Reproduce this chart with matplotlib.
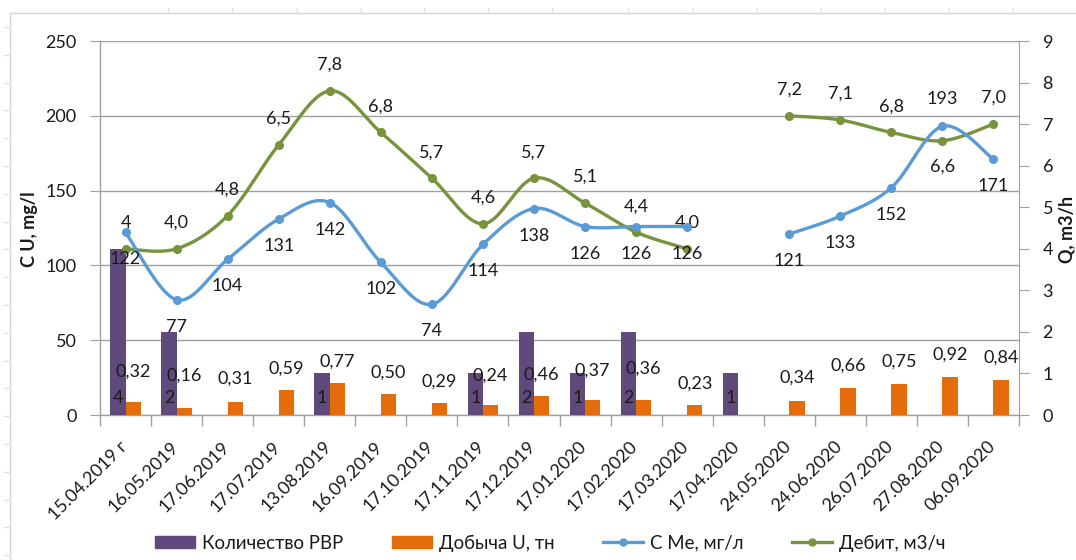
import numpy as np
import matplotlib
matplotlib.use("Agg")
import matplotlib.pyplot as plt
import matplotlib.transforms as mtransforms
from matplotlib.patches import Rectangle
from matplotlib.lines import Line2D

# ---- data -------------------------------------------------------------
dates = ["15.04.2019 г", "16.05.2019", "17.06.2019", "17.07.2019", "13.08.2019",
         "16.09.2019", "17.10.2019", "17.11.2019", "17.12.2019", "17.01.2020",
         "17.02.2020", "17.03.2020", "17.04.2020", "24.05.2020", "24.06.2020",
         "26.07.2020", "27.08.2020", "06.09.2020"]
nan = np.nan
rvr_count = [4, 2, nan, nan, 1, nan, nan, 1, 2, 1, 2, nan, 1, nan, nan, nan, nan, nan]
u_output = [0.32, 0.16, 0.31, 0.59, 0.77, 0.50, 0.29, 0.24, 0.46, 0.37, 0.36, 0.23,
            nan, 0.34, 0.66, 0.75, 0.92, 0.84]
c_me = [122, 77, 104, 131, 142, 102, 74, 114, 138, 126, 126, 126,
        nan, 121, 133, 152, 193, 171]
debit = [4, 4.0, 4.8, 6.5, 7.8, 6.8, 5.7, 4.6, 5.7, 5.1, 4.4, 4.0,
         nan, 7.2, 7.1, 6.8, 6.6, 7.0]

legend_names = ["Количество РВР", "Добыча U, тн", "С Ме, мг/л", "Дебит, м3/ч"]

# ---- style ------------------------------------------------------------
PURPLE = "#604a7b"
ORANGE = "#e46c0a"
BLUE = "#5b9bd5"
GREEN = "#77933c"
GRID = "#a0a0a0"
TXT = "#1a1a1a"
FS = 13

plt.rcParams["font.family"] = ["Lato", "DejaVu Sans"]


def fmt(v):
    if isinstance(v, int):
        return str(v)
    return f"{v:.1f}".replace(".", ",")


def smooth_segments(xs, ys, n=24):
    """Bezier-smoothed polylines through the points, split at missing values."""
    xs = np.asarray(xs, float)
    ys = np.asarray(ys, float)
    ok = ~np.isnan(ys)
    runs, cur = [], []
    for i in range(len(xs)):
        if ok[i]:
            cur.append(i)
        elif cur:
            runs.append(cur)
            cur = []
    if cur:
        runs.append(cur)
    out = []
    for r in runs:
        pts = np.column_stack([xs[r], ys[r]])
        m = len(pts)
        path = [pts[0]]
        for i in range(m - 1):
            p0 = pts[i - 1] if i > 0 else pts[i]
            p1, p2 = pts[i], pts[i + 1]
            p3 = pts[i + 2] if i + 2 < m else pts[i + 1]
            c1 = p1 + (p2 - p0) / 6.0
            c2 = p2 - (p3 - p1) / 6.0
            t = np.linspace(0, 1, n)[1:, None]
            seg = ((1 - t) ** 3) * p1 + 3 * ((1 - t) ** 2) * t * c1 \
                + 3 * (1 - t) * (t ** 2) * c2 + (t ** 3) * p2
            path.extend(seg)
        out.append(np.array(path))
    return out


W, H = 1076, 560
fig = plt.figure(figsize=(W / 100, H / 100), dpi=100)
L, R, T, B = 100, 1019, 41, 415
ax = fig.add_axes([L / W, 1 - B / H, (R - L) / W, (B - T) / H])
ax_r = ax.twinx()
ax_top = ax.twinx()

x = np.arange(len(dates))

# left scale: concentration
ax.set_xlim(-0.5, len(dates) - 0.5)
ax.set_ylim(0, 250)
ax.set_yticks(np.arange(0, 251, 50))
ax.grid(axis="y", color=GRID, lw=1.0)
ax.set_axisbelow(True)
for s in ["top", "right"]:
    ax.spines[s].set_visible(False)
for s in ["left", "bottom"]:
    ax.spines[s].set_color(GRID)
    ax.spines[s].set_linewidth(1.0)
ax.tick_params(axis="y", length=7, color=GRID, labelsize=FS, labelcolor=TXT, pad=10)

# category boundaries as ticks, date labels drawn as rotated texts
ax.set_xticks(np.arange(-0.5, len(dates), 1))
ax.set_xticklabels([])
ax.tick_params(axis="x", length=8, color=GRID, width=1.0)
lab_shift = mtransforms.ScaledTranslation(-2 / 100, -28 / 100, fig.dpi_scale_trans)
for xi, d in zip(x, dates):
    ax.text(xi, 0, d, transform=ax.get_xaxis_transform() + lab_shift,
            rotation=45, rotation_mode="anchor", ha="right",
            va="center_baseline", fontsize=FS, color=TXT, clip_on=False)

# right scale: count, output, flow rate
ax_r.set_ylim(0, 9)
ax_r.set_yticks(np.arange(0, 10, 1))
for s in ["top", "left", "bottom"]:
    ax_r.spines[s].set_visible(False)
ax_r.spines["right"].set_color(GRID)
ax_r.tick_params(axis="y", length=7, color=GRID, labelsize=FS, labelcolor=TXT, pad=10)

ax_top.set_ylim(0, 250)
ax_top.axis("off")

bw = 0.3
ax_r.bar(x - bw / 2, rvr_count, width=bw, color=PURPLE, zorder=2)
ax_r.bar(x + bw / 2, u_output, width=bw, color=ORANGE, zorder=2)

for seg in smooth_segments(x, debit):
    ax_r.plot(seg[:, 0], seg[:, 1], color=GREEN, lw=2.4, zorder=3,
              solid_capstyle="round")
ax_r.plot(x, debit, "o", color=GREEN, ms=5.5, zorder=4)

for seg in smooth_segments(x, c_me):
    ax_top.plot(seg[:, 0], seg[:, 1], color=BLUE, lw=2.4, zorder=3,
                solid_capstyle="round")
ax_top.plot(x, c_me, "o", color=BLUE, ms=5.5, zorder=4)

# data labels
lab = dict(fontsize=FS, color=TXT, ha="center", va="center",
           textcoords="offset pixels", zorder=6)
for i, v in enumerate(rvr_count):
    if not np.isnan(v):
        ax_r.annotate(f"{int(v)}", (x[i] - bw / 2, 0), xytext=(0, 17), **lab)

u_lift = [30, 33, 23, 22, 21, 22, 21, 29, 21, 29, 31, 22, 22, 23, 22, 22, 22, 22]
for i, v in enumerate(u_output):
    if not np.isnan(v):
        ax_r.annotate(f"{v:.2f}".replace(".", ","), (x[i] + bw / 2, v),
                      xytext=(0, u_lift[i]), **lab)

for i, v in enumerate(c_me):
    if not np.isnan(v):
        dy = 27 if v == max(c_me[13:]) else -27
        ax_top.annotate(f"{int(v)}", (x[i], v), xytext=(0, dy), **lab)

for i, v in enumerate(debit):
    if isinstance(v, float) and np.isnan(v):
        continue
    dy = -26 if i == 16 else 26
    ax_r.annotate(fmt(v), (x[i], v), xytext=(0, dy), **lab)

# axis titles
fig.text(30 / W, 1 - 229 / H, "C U, mg/l", rotation=90, fontsize=FS,
         fontweight="bold", ha="center", va="center", color=TXT)
fig.text(1067 / W, 1 - 229 / H, "Q, m3/h", rotation=90, fontsize=FS,
         fontweight="bold", ha="center", va="center", color=TXT)

# legend
handles = [
    Rectangle((0, 0), 1, 1, color=PURPLE),
    Rectangle((0, 0), 1, 1, color=ORANGE),
    Line2D([], [], color=BLUE, lw=2.4, marker="o", ms=5),
    Line2D([], [], color=GREEN, lw=2.4, marker="o", ms=5),
]
fig.legend(handles, legend_names, loc="center", ncol=4,
           bbox_to_anchor=(550 / W, 1 - 543 / H), frameon=False,
           fontsize=13.4, handlelength=2.15, handleheight=0.65,
           handletextpad=0.38, columnspacing=2.6, labelcolor=TXT)

# chart frame with faint sheet-cell marks around it
FRAME = "#d4d4d4"
fig.add_artist(Rectangle((10 / W, -0.1), 1.2, (H - 13) / H + 0.1,
                         transform=fig.transFigure, fill=False, ec=FRAME, lw=1.0))
for yy in np.arange(27, H, 27.8):
    fig.add_artist(Line2D([4 / W, 10 / W], [1 - yy / H, 1 - yy / H],
                          transform=fig.transFigure, color="#e2e2e2", lw=1.0))
for xx in [168, 232, 297, 361, 424, 488, 552, 628, 693, 757, 821, 885, 949, 1013]:
    fig.add_artist(Line2D([xx / W, xx / W], [1 - 8 / H, 1 - 13 / H],
                          transform=fig.transFigure, color="#e2e2e2", lw=1.0))

fig.savefig("out.png", dpi=100)
